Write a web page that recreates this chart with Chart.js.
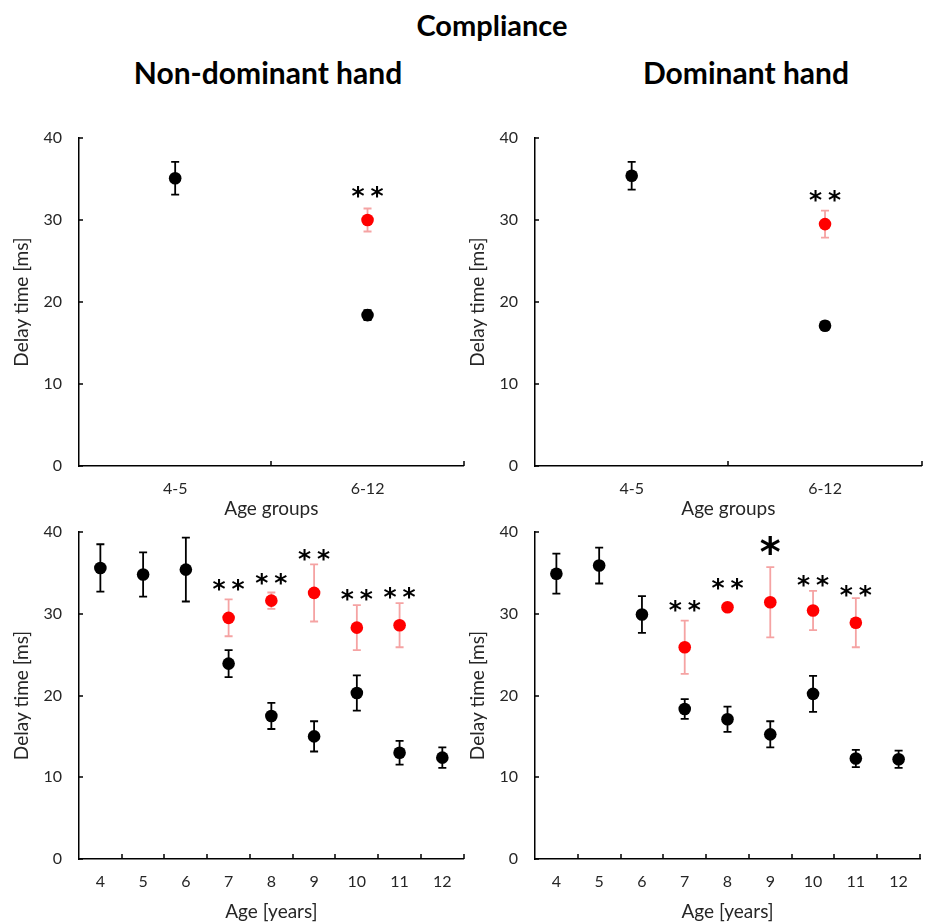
<!DOCTYPE html>
<html>
<head>
<meta charset="utf-8">
<script src="https://cdn.jsdelivr.net/npm/chart.js@4.4.1/dist/chart.umd.min.js"></script>
<style>
  body { margin: 0; background: #fff; }
  #wrap { position: relative; width: 928px; height: 923px; font-family: Lato, sans-serif; }
  .ttl { position: absolute; font-weight: bold; color: #000; transform: translate(-50%, -50%); white-space: nowrap; }
  canvas { position: absolute; }
</style>
</head>
<body>
<div id="wrap">
  <div class="ttl" style="left:492px;top:24px;font-size:29px">Compliance</div>
  <div class="ttl" style="left:268px;top:72px;font-size:30px">Non-dominant hand</div>
  <div class="ttl" style="left:746px;top:72px;font-size:30px">Dominant hand</div>
  <canvas id="tl" width="470" height="400" style="left:0;top:120px"></canvas>
  <canvas id="tr" width="472" height="400" style="left:456px;top:120px"></canvas>
  <canvas id="bl" width="470" height="403" style="left:0;top:520px"></canvas>
  <canvas id="br" width="472" height="403" style="left:456px;top:520px"></canvas>
</div>
<script>
// ---- data ----
const groupLabels = ['4-5', '6-12'];
const ageLabels = ['4', '5', '6', '7', '8', '9', '10', '11', '12'];

// non-dominant hand, age groups
const ndGroupBlack = [35.1, 18.4];
const ndGroupBlackErr = [2.0, 0.6];
const ndGroupRed = [null, 30.0];
const ndGroupRedErr = [null, 1.4];
const ndGroupStars = [null, '**'];
const ndGroupStarY = [null, 33.4];

// dominant hand, age groups
const dGroupBlack = [35.4, 17.1];
const dGroupBlackErr = [1.7, 0.5];
const dGroupRed = [null, 29.5];
const dGroupRedErr = [null, 1.65];
const dGroupStars = [null, '**'];
const dGroupStarY = [null, 32.9];

// non-dominant hand, single ages
const ndAgeBlack = [35.6, 34.8, 35.4, 23.9, 17.5, 15.0, 20.3, 13.0, 12.4];
const ndAgeBlackErr = [2.9, 2.7, 3.9, 1.65, 1.6, 1.85, 2.15, 1.45, 1.25];
const ndAgeRed = [null, null, null, 29.5, 31.6, 32.55, 28.3, 28.6, null];
const ndAgeRedErr = [null, null, null, 2.25, 1.0, 3.5, 2.75, 2.7, null];
const ndAgeStars = [null, null, null, '**', '**', '**', '**', '**', null];
const ndAgeStarY = [null, null, null, 33.5, 34.2, 37.2, 32.3, 32.55, null];

// dominant hand, single ages
const dAgeBlack = [34.9, 35.9, 29.9, 18.35, 17.1, 15.25, 20.2, 12.3, 12.2];
const dAgeBlackErr = [2.45, 2.2, 2.25, 1.2, 1.55, 1.6, 2.2, 1.05, 1.05];
const dAgeRed = [null, null, null, 25.9, 30.8, 31.4, 30.4, 28.9, null];
const dAgeRedErr = [null, null, null, 3.25, 0.3, 4.3, 2.4, 3.0, null];
const dAgeStars = [null, null, null, '**', '**', '*', '**', '**', null];
const dAgeStarY = [null, null, null, 31.0, 33.6, 38.4, 34.0, 32.8, null];

const yTicks = [0, 10, 20, 30, 40];

Chart.defaults.font.family = 'Lato, sans-serif';
Chart.defaults.color = '#262626';

// error bars under the points
const errorBars = {
  id: 'errorBars',
  beforeDatasetsDraw(chart) {
    const ctx = chart.ctx, y = chart.scales.y;
    chart.data.datasets.forEach((ds, di) => {
      if (!ds.errors) return;
      const meta = chart.getDatasetMeta(di);
      ctx.save();
      ctx.strokeStyle = ds.errorColor;
      ctx.lineWidth = ds.errorWidth;
      ds.data.forEach((v, i) => {
        const e = ds.errors[i];
        if (v == null || e == null) return;
        const px = meta.data[i].x;
        const top = y.getPixelForValue(v + e), bot = y.getPixelForValue(v - e);
        ctx.beginPath();
        ctx.moveTo(px, top); ctx.lineTo(px, bot);
        ctx.moveTo(px - 4, top); ctx.lineTo(px + 4, top);
        ctx.moveTo(px - 4, bot); ctx.lineTo(px + 4, bot);
        ctx.stroke();
      });
      ctx.restore();
    });
  }
};

// inside tick marks + significance stars
const extras = {
  id: 'extras',
  afterDraw(chart, args, opts) {
    const ctx = chart.ctx, x = chart.scales.x, y = chart.scales.y;
    const area = chart.chartArea;
    ctx.save();
    ctx.strokeStyle = '#000';
    ctx.lineWidth = 1.5;
    ctx.beginPath();
    yTicks.forEach(t => {
      const py = Math.round(y.getPixelForValue(t));
      ctx.moveTo(area.left, py); ctx.lineTo(area.left + 4, py);
    });
    for (let i = 1; i <= x.ticks.length; i++) {
      const px = Math.round(x.getPixelForValue(i - 0.5));
      ctx.moveTo(px, area.bottom); ctx.lineTo(px, area.bottom - 5);
    }
    ctx.stroke();

    ctx.fillStyle = '#000';
    ctx.textAlign = 'center';
    ctx.textBaseline = 'alphabetic';
    opts.stars.forEach((s, i) => {
      if (!s) return;
      const px = x.getPixelForValue(i), py = y.getPixelForValue(opts.starY[i]);
      const big = s.length === 1;
      ctx.font = (big ? 'bold 40px' : 'bold 25px') + ' "DejaVu Sans"';
      const m = ctx.measureText('*');
      const dy = (m.actualBoundingBoxAscent - m.actualBoundingBoxDescent) / 2;
      if (big) {
        ctx.fillText('*', px, py + dy);
      } else {
        ctx.fillText('*', px - 9.5, py + dy);
        ctx.fillText('*', px + 9.5, py + dy);
      }
    });
    ctx.restore();
  }
};

function makePanel(id, labels, black, blackErr, red, redErr, stars, starY, xTitle, padTop, padRight, xHeight) {
  new Chart(document.getElementById(id), {
    type: 'line',
    data: {
      labels: labels,
      datasets: [
        {
          data: black, errors: blackErr, errorColor: '#000', errorWidth: 1.8,
          showLine: false, pointRadius: 6.3, pointHoverRadius: 6.3,
          pointBackgroundColor: '#000', pointBorderWidth: 0
        },
        {
          data: red, errors: redErr, errorColor: '#f5a3a3', errorWidth: 1.8,
          showLine: false, pointRadius: 6.3, pointHoverRadius: 6.3,
          pointBackgroundColor: '#ff0000', pointBorderWidth: 0
        }
      ]
    },
    options: {
      responsive: false,
      animation: false,
      layout: { padding: { top: padTop, right: padRight, left: 0, bottom: 0 } },
      plugins: {
        legend: { display: false },
        tooltip: { enabled: false },
        extras: { stars: stars, starY: starY }
      },
      scales: {
        x: {
          type: 'category',
          offset: true,
          grid: { display: false, drawTicks: false, offset: true },
          border: { color: '#000', width: 1.5 },
          ticks: { font: { size: 16 }, padding: 13, maxRotation: 0 },
          title: { display: true, text: xTitle, font: { size: 19 }, padding: { top: 0, bottom: 0 } },
          afterFit(s) { s.height = xHeight; s.paddingLeft = 0; s.paddingRight = 0; }
        },
        y: {
          min: 0, max: 40,
          grid: { display: false, drawTicks: false },
          border: { color: '#000', width: 1.5 },
          ticks: { stepSize: 10, font: { size: 16 }, padding: 17 },
          title: { display: true, text: 'Delay time [ms]', font: { size: 19 }, padding: { top: 10, bottom: 0 } },
          afterFit(s) { s.width = 79; s.paddingTop = 0; s.paddingBottom = 0; }
        }
      }
    },
    plugins: [errorBars, extras]
  });
}

makePanel('tl', groupLabels, ndGroupBlack, ndGroupBlackErr, ndGroupRed, ndGroupRedErr, ndGroupStars, ndGroupStarY, 'Age groups', 18, 3, 54);
makePanel('tr', groupLabels, dGroupBlack, dGroupBlackErr, dGroupRed, dGroupRedErr, dGroupStars, dGroupStarY, 'Age groups', 18, 5, 54);
makePanel('bl', ageLabels, ndAgeBlack, ndAgeBlackErr, ndAgeRed, ndAgeRedErr, ndAgeStars, ndAgeStarY, 'Age [years]', 12, 5, 64);
makePanel('br', ageLabels, dAgeBlack, dAgeBlackErr, dAgeRed, dAgeRedErr, dAgeStars, dAgeStarY, 'Age [years]', 12, 8, 64);
</script>
</body>
</html>
